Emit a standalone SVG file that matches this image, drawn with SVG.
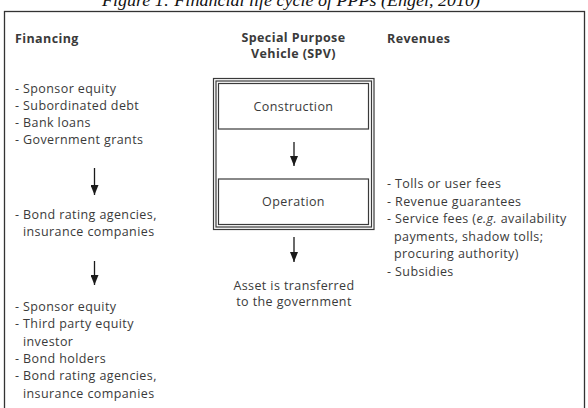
<svg xmlns="http://www.w3.org/2000/svg" width="588" height="408" viewBox="0 0 588 408">
<style>
.t{font-family:"Open Sans","Noto Sans",sans-serif;font-size:12.5px;letter-spacing:0.4px;fill:#3a3a3a}
.h{font-family:"Open Sans","Noto Sans",sans-serif;font-size:12.5px;font-weight:bold;letter-spacing:0.4px;fill:#3a3a3a}
.box{fill:none;stroke:#3a3a3a;stroke-width:1.2}
.arr{stroke:#1a1a1a;stroke-width:1.3;fill:none;marker-end:url(#ah)}
</style>
<defs>
<marker id="ah" markerUnits="userSpaceOnUse" markerWidth="10" markerHeight="8" refX="10" refY="4" orient="auto" viewBox="0 0 10 8">
<path d="M0,0 L10,4 L0,8 z" fill="#1a1a1a"/>
</marker>
</defs>
<rect width="588" height="408" fill="#fff"/>
<text x="102" y="6" font-family="'Liberation Serif',serif" font-style="italic" font-size="17" fill="#111" textLength="378" lengthAdjust="spacingAndGlyphs">Figure 1: Financial life cycle of PPPs (Engel, 2010)</text>
<rect x="4.5" y="11.5" width="580" height="420" fill="none" stroke="#333" stroke-width="1.3"/>
<g id="financing">
<text class="h" x="15" y="43">Financing</text>
<text class="t" x="15" y="93">- Sponsor equity</text>
<text class="t" x="15" y="110">- Subordinated debt</text>
<text class="t" x="15" y="127">- Bank loans</text>
<text class="t" x="15" y="144.3">- Government grants</text>
</g>
<g id="rating">
<text class="t" x="15" y="219">- Bond rating agencies,</text>
<text class="t" x="23" y="236">insurance companies</text>
</g>
<g id="investors">
<text class="t" x="15" y="311">- Sponsor equity</text>
<text class="t" x="15" y="328.3">- Third party equity</text>
<text class="t" x="23" y="345.6">investor</text>
<text class="t" x="15" y="362.9">- Bond holders</text>
<text class="t" x="15" y="380.2">- Bond rating agencies,</text>
<text class="t" x="23" y="397.5">insurance companies</text>
</g>
<g id="spv">
<text class="h" x="293.5" y="42" text-anchor="middle">Special Purpose</text>
<text class="h" x="293.5" y="58" text-anchor="middle">Vehicle (SPV)</text>
<rect class="box" x="213.5" y="78.5" width="160.5" height="151"/>
<rect class="box" x="216" y="81" width="155.5" height="146"/>
</g>
<g id="construction">
<rect class="box" x="218.5" y="83.5" width="150" height="45.5"/>
<text class="t" x="293.5" y="111" text-anchor="middle">Construction</text>
</g>
<g id="operation">
<rect class="box" x="218.5" y="179" width="150" height="45.5"/>
<text class="t" x="293.5" y="206" text-anchor="middle">Operation</text>
</g>
<g id="asset">
<text class="t" x="294" y="290" text-anchor="middle">Asset is transferred</text>
<text class="t" x="294" y="305.5" text-anchor="middle">to the government</text>
</g>
<g id="revenues">
<text class="h" x="387" y="43">Revenues</text>
<text class="t" x="387" y="188">- Tolls or user fees</text>
<text class="t" x="387" y="205.5">- Revenue guarantees</text>
<text class="t" x="387" y="223">- Service fees (<tspan font-style="italic">e.g.</tspan> availability</text>
<text class="t" x="394" y="240.5">payments, shadow tolls;</text>
<text class="t" x="394" y="258">procuring authority)</text>
<text class="t" x="387" y="275.5">- Subsidies</text>
</g>
<g id="connectors">
<line class="arr" x1="94.5" y1="168" x2="94.5" y2="195"/>
<line class="arr" x1="94.5" y1="261" x2="94.5" y2="285"/>
<line class="arr" x1="294" y1="142" x2="294" y2="166"/>
<line class="arr" x1="294" y1="237" x2="294" y2="262"/>
</g>
</svg>
